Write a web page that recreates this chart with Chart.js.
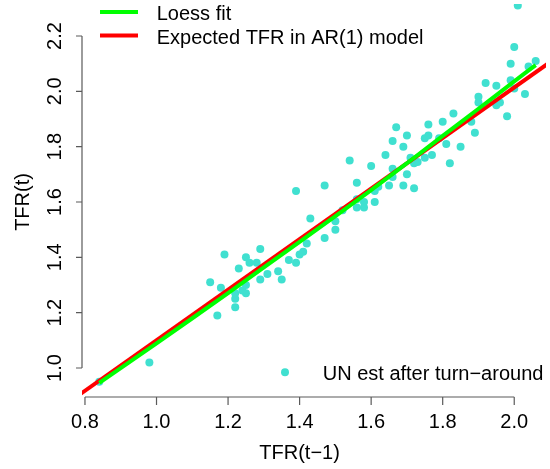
<!DOCTYPE html>
<html>
<head>
<meta charset="utf-8">
<script src="https://cdn.jsdelivr.net/npm/chart.js@4"></script>
<style>
  body { margin: 0; background: #fff; }
  canvas { display: block; }
</style>
</head>
<body>
<canvas id="tfrChart" width="550" height="469"></canvas>
<script>
// TFR(t-1) vs TFR(t), UN estimates after the turn-around
const tfrPrev = [
  0.84, 0.98, 1.15, 1.17, 1.18, 1.19, 1.22, 1.22, 1.22, 1.23,
  1.24, 1.25, 1.25, 1.25, 1.26, 1.28, 1.29, 1.29, 1.31, 1.34,
  1.35, 1.37, 1.39, 1.40, 1.41, 1.42, 1.43, 1.39, 1.47, 1.47,
  1.50, 1.50, 1.52, 1.54, 1.56, 1.56, 1.56, 1.58, 1.58, 1.61,
  1.61, 1.62, 1.60, 1.64, 1.65, 1.66, 1.66, 1.66, 1.67, 1.69,
  1.69, 1.70, 1.70, 1.71, 1.72, 1.72, 1.73, 1.75, 1.75, 1.76,
  1.76, 1.77, 1.79, 1.80, 1.81, 1.82, 1.83, 1.85, 1.88, 1.89,
  1.90, 1.90, 1.92, 1.95, 1.95, 1.96, 1.98, 1.99, 1.99, 2.00,
  2.00, 2.01, 2.03, 2.04, 2.06
];
const tfrNext = [
  0.95, 1.02, 1.31, 1.19, 1.29, 1.41, 1.22, 1.25, 1.27, 1.36,
  1.28, 1.27, 1.30, 1.40, 1.38, 1.38, 1.43, 1.32, 1.34, 1.35,
  1.32, 1.39, 1.38, 1.41, 1.42, 1.45, 1.54, 1.64, 1.47, 1.66,
  1.50, 1.53, 1.57, 1.75, 1.67, 1.58, 1.61, 1.58, 1.60, 1.60,
  1.64, 1.655, 1.73, 1.77, 1.66, 1.69, 1.72, 1.82, 1.87, 1.66,
  1.80, 1.70, 1.84, 1.76, 1.65, 1.74, 1.745, 1.76, 1.83, 1.84,
  1.88, 1.77, 1.83, 1.89, 1.81, 1.74, 1.92, 1.80, 1.89, 1.85,
  1.96, 1.98, 2.03, 2.02, 1.95, 1.96, 1.91, 2.04, 2.10, 2.16,
  2.01, 2.31, 1.99, 2.09, 2.11
];

// loess curve
const loessX = [0.84, 1.0, 1.2, 1.4, 1.6, 1.7, 1.8, 1.9, 2.0, 2.06];
const loessY = [0.946, 1.089, 1.271, 1.456, 1.643, 1.740, 1.839, 1.937, 2.036, 2.095];

// expected TFR in AR(1) model (straight line)
const arX = [0.75, 2.15];
const arY = [0.872, 2.151];

const xTicks = [0.8, 1.0, 1.2, 1.4, 1.6, 1.8, 2.0];
const yTicks = [1.0, 1.2, 1.4, 1.6, 1.8, 2.0, 2.2];

const FONT = "20px 'Liberation Sans', Arial, Helvetica, sans-serif";

// R-style axes, titles and legends
const rStyle = {
  id: "rStyle",
  afterDraw(chart) {
    const { ctx, chartArea, scales } = chart;
    const xs = scales.x;
    const ys = scales.y;
    const bottom = chartArea.bottom;
    const left = chartArea.left;
    ctx.save();
    ctx.strokeStyle = "#5a5a5a";
    ctx.lineWidth = 1.2;
    ctx.fillStyle = "#000";
    ctx.font = FONT;

    // x axis
    const x0 = xs.getPixelForValue(xTicks[0]);
    const x1 = xs.getPixelForValue(xTicks[xTicks.length - 1]);
    ctx.beginPath();
    ctx.moveTo(x0, bottom);
    ctx.lineTo(x1, bottom);
    xTicks.forEach((v) => {
      const px = xs.getPixelForValue(v);
      ctx.moveTo(px, bottom);
      ctx.lineTo(px, bottom + 8);
    });
    ctx.stroke();
    ctx.textAlign = "center";
    ctx.textBaseline = "alphabetic";
    xTicks.forEach((v) => {
      ctx.fillText(v.toFixed(1), xs.getPixelForValue(v), bottom + 30.5);
    });
    ctx.fillText("TFR(t\u22121)", (x0 + x1) / 2, bottom + 62);

    // y axis
    const y0 = ys.getPixelForValue(yTicks[0]);
    const y1 = ys.getPixelForValue(yTicks[yTicks.length - 1]);
    ctx.beginPath();
    ctx.moveTo(left, y0);
    ctx.lineTo(left, y1);
    yTicks.forEach((v) => {
      const py = ys.getPixelForValue(v);
      ctx.moveTo(left, py);
      ctx.lineTo(left - 6, py);
    });
    ctx.stroke();
    yTicks.forEach((v) => {
      ctx.save();
      ctx.translate(61, ys.getPixelForValue(v));
      ctx.rotate(-Math.PI / 2);
      ctx.fillText(v.toFixed(1), 0, 0);
      ctx.restore();
    });
    ctx.save();
    ctx.translate(29.3, (y0 + y1) / 2);
    ctx.rotate(-Math.PI / 2);
    ctx.fillText("TFR(t)", 0, 0);
    ctx.restore();

    // top-left legend (lines)
    const ds = chart.data.datasets;
    ctx.textAlign = "left";
    [[ds[0], 12, 19.5], [ds[1], 35.5, 44]].forEach(([d, ly, by]) => {
      ctx.strokeStyle = d.borderColor;
      ctx.lineWidth = 4;
      ctx.beginPath();
      ctx.moveTo(100, ly);
      ctx.lineTo(138, ly);
      ctx.stroke();
      ctx.fillText(d.label, 156.7, by);
    });

    // bottom-right legend (points)
    ctx.fillStyle = ds[2].backgroundColor;
    ctx.beginPath();
    ctx.arc(285, 372.3, 4, 0, Math.PI * 2);
    ctx.fill();
    ctx.fillStyle = "#000";
    ctx.fillText(ds[2].label, 322.7, 380);
    ctx.restore();
  },
};

const ctx = document.getElementById("tfrChart").getContext("2d");
const tfrChart = new Chart(ctx, {
  type: "scatter",
  data: {
    datasets: [
      {
        label: "Loess fit",
        type: "line",
        data: loessX.map((x, i) => ({ x: x, y: loessY[i] })),
        borderColor: "#00ff00",
        borderWidth: 4,
        pointRadius: 0,
        tension: 0.3,
        fill: false,
        order: 0,
      },
      {
        label: "Expected TFR in AR(1) model",
        type: "line",
        data: arX.map((x, i) => ({ x: x, y: arY[i] })),
        borderColor: "#ff0000",
        borderWidth: 4,
        pointRadius: 0,
        fill: false,
        order: 1,
      },
      {
        label: "UN est after turn\u2212around",
        data: tfrPrev.map((x, i) => ({ x: x, y: tfrNext[i] })),
        backgroundColor: "#40e0d0",
        borderWidth: 0,
        pointRadius: 4,
        pointHoverRadius: 4,
        order: 2,
      },
    ],
  },
  options: {
    responsive: false,
    animation: false,
    events: [],
    layout: {
      padding: { left: 82, right: 0, top: 0, bottom: 72 },
    },
    scales: {
      x: { type: "linear", display: false, min: 0.7917, max: 2.0888 },
      y: { type: "linear", display: false, min: 0.8952, max: 2.3156 },
    },
    plugins: {
      legend: { display: false },
      tooltip: { enabled: false },
    },
  },
  plugins: [rStyle],
});
</script>
</body>
</html>
